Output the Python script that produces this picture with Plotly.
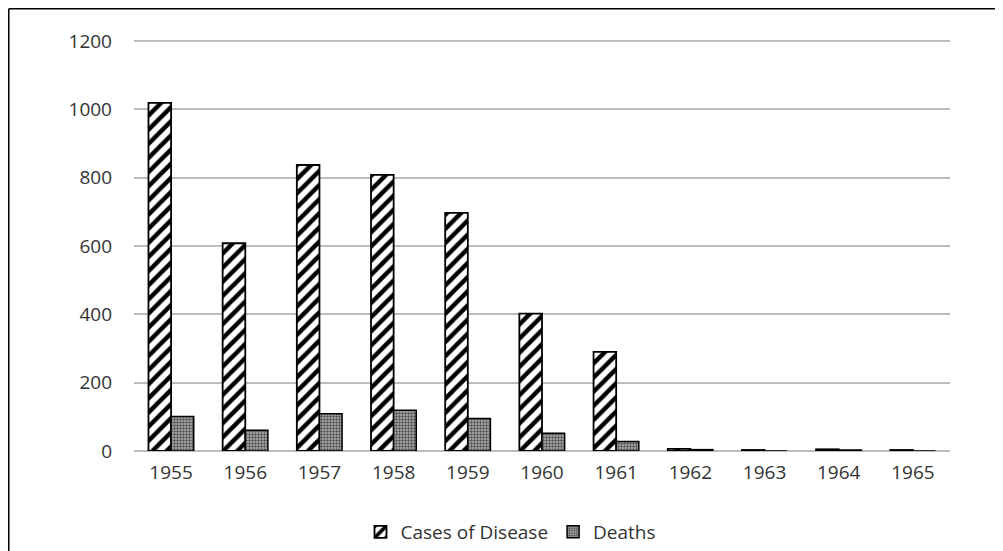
import plotly.graph_objects as go

years = ["1955", "1956", "1957", "1958", "1959", "1960", "1961", "1962", "1963", "1964", "1965"]
cases = [1019, 608, 837, 808, 697, 402, 290, 6, 3, 5, 3]
deaths = [101, 61, 109, 119, 95, 52, 28, 4, 0, 3, 0]

fig = go.Figure()
fig.add_trace(go.Bar(
    x=years, y=cases, name="Cases of Disease",
    marker=dict(color="white", line=dict(color="black", width=1.8),
                pattern=dict(shape="/", fgcolor="black", bgcolor="white", fgopacity=1,
                             size=10, solidity=0.45)),
))
fig.add_trace(go.Bar(
    x=years, y=deaths, name="Deaths",
    marker=dict(color="#9a9a9a", line=dict(color="black", width=1.5),
                pattern=dict(shape=".", fgcolor="#505050", bgcolor="#b4b4b4", fgopacity=1,
                             size=3, solidity=0.5)),
))

# figure is placed with an 8px page margin, so sizes are reduced accordingly
W, H = 995, 543
L, R, T, B = 126, 53, 23, 100
pw, ph = W - L - R, H - T - B
ymax = 1200 * ph / 410
bx = (0.75 - L) / pw
by = (H - B - 0.75) / ph

fig.update_layout(
    width=W, height=H,
    margin=dict(l=L, r=R, t=T, b=B, autoexpand=False),
    paper_bgcolor="white", plot_bgcolor="white",
    barmode="group", bargap=0.39, bargroupgap=0,
    font=dict(family="Open Sans", size=19, color="#333333"),
    showlegend=True,
    legend=dict(orientation="h", x=0.462, xanchor="center", y=(H - B - 524) / ph, yanchor="middle",
                font=dict(size=19, color="#333333"), itemwidth=30),
    xaxis=dict(showgrid=False, showline=False, ticks="", ticklabelstandoff=8,
               automargin=False, tickfont=dict(size=19)),
    yaxis=dict(range=[0, ymax], tickvals=[0, 200, 400, 600, 800, 1000, 1200],
               showgrid=True, gridcolor="#bcbcbc", gridwidth=1.6,
               zeroline=True, zerolinecolor="#bcbcbc", zerolinewidth=1.6,
               showline=False, ticks="", ticklabelstandoff=21, automargin=False,
               tickfont=dict(size=19)),
    shapes=[
        dict(type="line", xref="paper", yref="paper", x0=bx, x1=1.2, y0=by, y1=by,
             line=dict(color="black", width=1.5)),
        dict(type="line", xref="paper", yref="paper", x0=bx, x1=bx, y0=by, y1=-0.4,
             line=dict(color="black", width=1.5)),
    ],
)

fig.write_html("out.html")
